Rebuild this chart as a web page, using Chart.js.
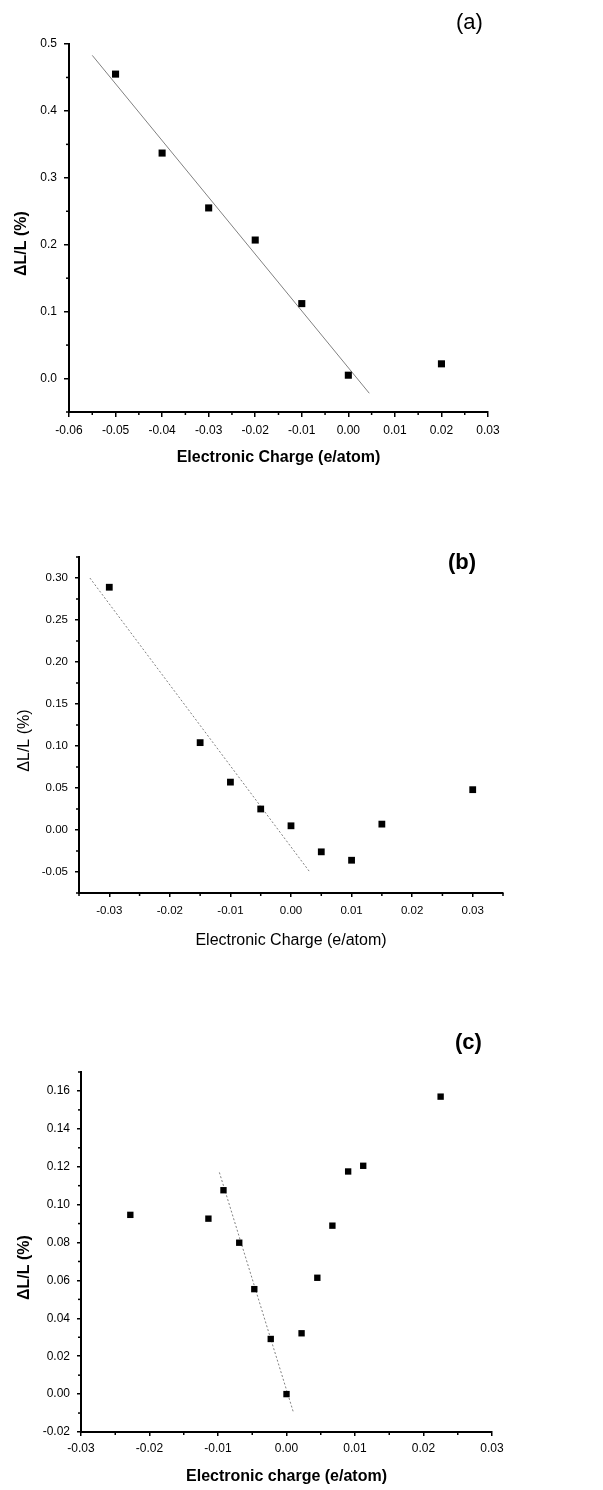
<!DOCTYPE html>
<html>
<head>
<meta charset="utf-8">
<script src="https://cdn.jsdelivr.net/npm/chart.js@4.4.1/dist/chart.umd.min.js"></script>
<style>
  html, body { margin: 0; padding: 0; background: #fff; }
  #page { position: relative; width: 603px; height: 1490px; font-family: "Liberation Sans", Arial, sans-serif; }
  canvas { position: absolute; left: 0; }
  .tag { position: absolute; font-size: 22px; color: #000; line-height: 1; }
</style>
</head>
<body>
<div id="page">
  <canvas id="chA" width="603" height="480" style="top:0"></canvas>
  <canvas id="chB" width="603" height="480" style="top:490px"></canvas>
  <canvas id="chC" width="603" height="500" style="top:990px"></canvas>
  <div class="tag" style="left:456px;top:11px">(a)</div>
  <div class="tag" style="left:448px;top:551px;font-weight:bold">(b)</div>
  <div class="tag" style="left:455px;top:1031px;font-weight:bold">(c)</div>
</div>
<script>
// (a)
const aX = [-0.05, -0.04, -0.03, -0.02, -0.01, 0.00, 0.02];
const aY = [0.455, 0.337, 0.255, 0.207, 0.112, 0.005, 0.022];
const aFitX = [-0.055, 0.0045];
const aFitY = [0.483, -0.022];
// (b)
const bX = [-0.03, -0.015, -0.01, -0.005, 0.00, 0.005, 0.01, 0.015, 0.03];
const bY = [0.289, 0.104, 0.057, 0.025, 0.005, -0.026, -0.036, 0.007, 0.048];
const bFitX = [-0.0332, 0.0031];
const bFitY = [0.300, -0.050];
// (c)
const cX = [-0.0228, -0.0114, -0.0092, -0.0069, -0.0047, -0.0023, 0.0000, 0.0022, 0.0045, 0.0067, 0.0090, 0.0112, 0.0225];
const cY = [0.0946, 0.0926, 0.1076, 0.0799, 0.0554, 0.0291, 0.0000, 0.0321, 0.0614, 0.0889, 0.1175, 0.1205, 0.1570];
const cFitX = [-0.0098, 0.0010];
const cFitY = [0.117, -0.0095];

const FONT = '"Liberation Sans", Arial, sans-serif';
const pts = (xs, ys) => xs.map((x, i) => ({ x, y: ys[i] }));
const isMajor = (v, major) => Math.abs(v / major - Math.round(v / major)) < 1e-6;

// short minor ticks, drawn at the library's own tick positions
const minorTicks = {
  id: "minorTicks",
  afterDraw(chart) {
    const ctx = chart.ctx;
    ctx.save();
    ctx.strokeStyle = "#000";
    ctx.lineWidth = 1.5;
    ["x", "y"].forEach(id => {
      const s = chart.scales[id], major = s.options.majorStep;
      s.ticks.forEach(t => {
        if (isMajor(t.value, major)) return;
        const p = s.getPixelForValue(t.value);
        ctx.beginPath();
        if (id === "x") { ctx.moveTo(p, s.top); ctx.lineTo(p, s.top + 3); }
        else { ctx.moveTo(s.right, p); ctx.lineTo(s.right - 3, p); }
        ctx.stroke();
      });
    });
    ctx.restore();
  }
};

function axis(o) {
  return {
    type: "linear", min: o.min, max: o.max, majorStep: o.major,
    afterFit: o.fit,
    border: { display: true, color: "#000", width: 2 },
    grid: {
      drawOnChartArea: false, tickLength: o.tl, lineWidth: 1.5,
      tickColor: c => isMajor(c.tick.value, o.major) ? "#000" : "rgba(0,0,0,0)"
    },
    ticks: {
      stepSize: o.minor, autoSkip: false, maxRotation: 0, padding: o.pad, color: "#000",
      font: { family: FONT, size: o.fs || 12 },
      callback: v => {
        if (!isMajor(v, o.major)) return "";
        if (Math.abs(v) < 1e-9) v = 0;
        return v.toFixed(o.dec);
      }
    },
    title: {
      display: true, text: o.title, color: "#000",
      font: { family: FONT, size: 16, weight: o.bold ? "bold" : "normal" },
      padding: o.tpad
    }
  };
}

function panel(id, cfg) {
  return new Chart(document.getElementById(id), {
    type: "scatter",
    data: { datasets: [
      { data: pts(cfg.fx, cfg.fy), showLine: true, pointRadius: 0, borderColor: "#808080",
        borderWidth: 1, borderDash: cfg.dash, order: 2 },
      { data: pts(cfg.x, cfg.y), pointStyle: "rect", pointRadius: cfg.r, backgroundColor: "#000",
        borderColor: "#000", borderWidth: 0, order: 1 }
    ] },
    options: {
      responsive: false, animation: false,
      layout: { padding: { left: 0, top: cfg.top, right: 603 - cfg.right, bottom: 0 } },
      plugins: { legend: { display: false }, tooltip: { enabled: false } },
      scales: {
        x: axis(Object.assign({ fit: s => { s.height = cfg.h - cfg.bottom; } }, cfg.xa)),
        y: axis(Object.assign({ fit: s => { s.width = cfg.left; } }, cfg.ya))
      }
    },
    plugins: [minorTicks]
  });
}

const yTitle = "ΔL/L (%)\u00a0\u00a0\u00a0\u00a0\u00a0\u00a0\u00a0";

panel("chA", {
  x: aX, y: aY, fx: aFitX, fy: aFitY, dash: [], r: 5,
  h: 480, left: 69, top: 44, right: 488, bottom: 412,
  xa: { min: -0.06, max: 0.03, major: 0.01, minor: 0.005, dec: 2, tl: 5, pad: 6,
        title: "Electronic Charge (e/atom)", bold: true, tpad: { top: 0, bottom: 13 } },
  ya: { min: -0.05, max: 0.5, major: 0.1, minor: 0.05, dec: 1, tl: 5, pad: 7,
        title: yTitle, bold: true, tpad: { top: 12, bottom: 0 } }
});

panel("chB", {
  x: bX, y: bY, fx: bFitX, fy: bFitY, dash: [2, 2], r: 4.8,
  h: 480, left: 79, top: 67, right: 503, bottom: 403,
  xa: { min: -0.035, max: 0.035, major: 0.01, minor: 0.005, dec: 2, tl: 4, pad: 7, fs: 11.5,
        title: "Electronic Charge (e/atom)", bold: false, tpad: { top: 0, bottom: 20 } },
  ya: { min: -0.075, max: 0.325, major: 0.05, minor: 0.025, dec: 2, tl: 4, pad: 7, fs: 11.5,
        title: yTitle, bold: false, tpad: { top: 15, bottom: 0 } }
});

panel("chC", {
  x: cX, y: cY, fx: cFitX, fy: cFitY, dash: [2, 2], r: 4.5,
  h: 500, left: 81, top: 82, right: 492, bottom: 442,
  xa: { min: -0.03, max: 0.03, major: 0.01, minor: 0.005, dec: 2, tl: 4, pad: 5,
        title: "Electronic charge (e/atom)", bold: true, tpad: { top: 0, bottom: 4 } },
  ya: { min: -0.02, max: 0.17, major: 0.02, minor: 0.01, dec: 2, tl: 4, pad: 7,
        title: yTitle, bold: true, tpad: { top: 15, bottom: 0 } }
});
</script>
</body>
</html>
